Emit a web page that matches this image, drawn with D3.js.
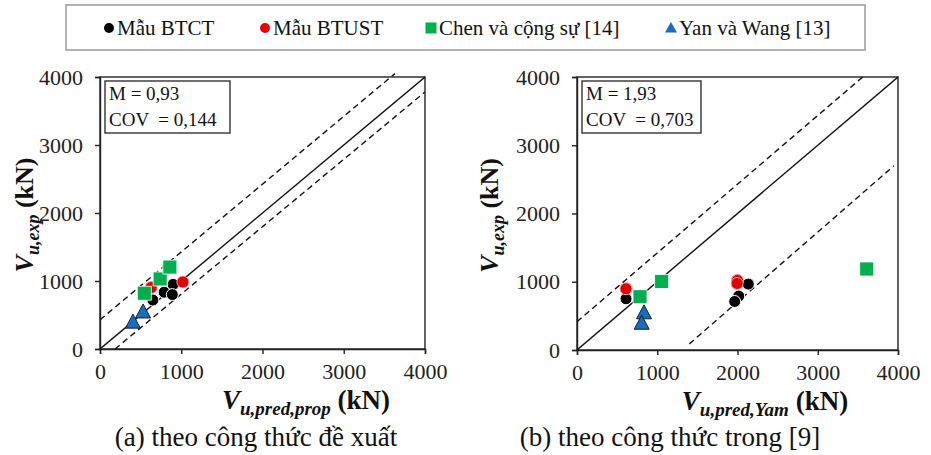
<!DOCTYPE html>
<html lang="vi">
<head>
<meta charset="UTF-8">
<title>Vu,exp vs Vu,pred</title>
<script src="https://d3js.org/d3.v7.min.js"></script>
<style>
  body { margin: 0; background: #fff; }
  svg { font-family: "Liberation Serif", "Times New Roman", serif; }
  .tick text { font-size: 22px; fill: #222; }
  .domain, .tick line { stroke: #222; stroke-width: 1.4; }
</style>
</head>
<body>
<div id="chart"></div>
<script>
// data, [pred, exp] in kN
const ticks = [0, 1000, 2000, 3000, 4000];

// (a) proposed formula
const btctA  = [[650, 720], [790, 835], [900, 950], [890, 800]];
const btustA = [[630, 905], [1020, 985]];
const chenA  = [[545, 820], [740, 1030], [860, 1205]];
const yanA   = [[530, 545], [405, 395]];

// (b) formula in [9]
const btctB  = [[611, 750], [2135, 966], [2015, 790], [1965, 711]];
const btustB = [[611, 897], [1998, 1020], [1995, 975]];
const chenB  = [[785, 780], [1055, 1005], [3610, 1187]];
const yanB   = [[835, 545], [806, 392]];

// bounds lines [x0, y0, x1, y1]
const upperA = [0, 430, 3630, 4050];
const lowerA = [185, 0, 4000, 3780];
const upperB = [0, 415, 3570, 4010];
const lowerB = [1400, 90, 3950, 2700];

const width = 931, height = 455;
const svg = d3.select("#chart").append("svg")
    .attr("width", width).attr("height", height);

// legend
const legend = svg.append("g");
legend.append("rect").attr("x", 66).attr("y", 5).attr("width", 799).attr("height", 45)
    .attr("fill", "#fff").attr("stroke", "#999").attr("stroke-width", 1.5);
const legItems = [
  {label: "Mẫu BTCT", type: "circle", color: "#000", x: 109},
  {label: "Mẫu BTUST", type: "circle", color: "#ee0000", x: 265},
  {label: "Chen và cộng sự [14]", type: "square", color: "#00b050", x: 431},
  {label: "Yan và Wang [13]", type: "triangle", color: "#1a6dbd", x: 671}
];
legItems.forEach(d => {
  const g = legend.append("g").attr("transform", `translate(${d.x},28)`);
  if (d.type === "circle") g.append("circle").attr("r", 5).attr("fill", d.color);
  if (d.type === "square") g.append("rect").attr("x", -5.5).attr("y", -5.5).attr("width", 11).attr("height", 11).attr("fill", d.color);
  if (d.type === "triangle") g.append("path").attr("d", "M0,-6L6,4.5L-6,4.5Z").attr("fill", d.color);
  g.append("text").attr("x", 8).attr("y", 7).attr("font-size", 21).attr("fill", "#111").text(d.label);
});

function drawPanel(cfg) {
  const x = d3.scaleLinear().domain([0, 4000]).range(cfg.xr);
  const y = d3.scaleLinear().domain([0, 4000]).range(cfg.yr);
  const g = svg.append("g");

  // frame
  g.append("rect").attr("x", cfg.xr[0]).attr("y", cfg.yr[1])
    .attr("width", cfg.xr[1] - cfg.xr[0]).attr("height", cfg.yr[0] - cfg.yr[1])
    .attr("fill", "none").attr("stroke", "#222").attr("stroke-width", 1.4);

  g.append("g").attr("transform", `translate(0,${cfg.yr[0]})`)
    .call(d3.axisBottom(x).tickValues(ticks).tickSize(5).tickPadding(9).tickFormat(d3.format("d")))
    .attr("font-family", null).attr("font-size", null);
  g.append("g").attr("transform", `translate(${cfg.xr[0]},0)`)
    .call(d3.axisLeft(y).tickValues(ticks).tickSize(5).tickPadding(12).tickFormat(d3.format("d")))
    .attr("font-family", null).attr("font-size", null);

  // clip for lines
  const clipId = "clip" + cfg.id;
  svg.append("clipPath").attr("id", clipId).append("rect")
    .attr("x", cfg.xr[0]).attr("y", cfg.yr[1] - 5)
    .attr("width", cfg.xr[1] - cfg.xr[0]).attr("height", cfg.yr[0] - cfg.yr[1] + 5);
  const lines = g.append("g").attr("clip-path", `url(#${clipId})`);
  lines.append("line").attr("x1", x(0)).attr("y1", y(0)).attr("x2", x(4000)).attr("y2", y(4000))
    .attr("stroke", "#111").attr("stroke-width", 1.4);
  [cfg.upper, cfg.lower].forEach(l => {
    lines.append("line").attr("x1", x(l[0])).attr("y1", y(l[1])).attr("x2", x(l[2])).attr("y2", y(l[3]))
      .attr("stroke", "#111").attr("stroke-width", 1.4).attr("stroke-dasharray", "6,4");
  });

  // stats box
  const sb = g.append("g");
  sb.append("rect").attr("x", cfg.xr[0] + 5).attr("y", cfg.yr[1] + 4)
    .attr("width", cfg.boxW).attr("height", 52)
    .attr("fill", "#fff").attr("stroke", "#333").attr("stroke-width", 1.4);
  sb.append("text").attr("x", cfg.xr[0] + 9).attr("y", cfg.yr[1] + 23)
    .attr("font-size", 19).attr("fill", "#111").text("M = " + cfg.m);
  sb.append("text").attr("x", cfg.xr[0] + 9).attr("y", cfg.yr[1] + 49)
    .attr("font-size", 19).attr("fill", "#111").attr("xml:space", "preserve").text("COV  = " + cfg.cov);

  // points
  const pts = g.append("g");
  pts.selectAll(".btct").data(cfg.btct).enter().append("circle")
    .attr("cx", d => x(d[0])).attr("cy", d => y(d[1])).attr("r", 6)
    .attr("fill", "#000").attr("stroke", "#fff").attr("stroke-width", 1);
  pts.selectAll(".btust").data(cfg.btust).enter().append("circle")
    .attr("cx", d => x(d[0])).attr("cy", d => y(d[1])).attr("r", 6)
    .attr("fill", "#e00000").attr("stroke", "#f4a0a0").attr("stroke-width", 1);
  pts.selectAll(".chen").data(cfg.chen).enter().append("rect")
    .attr("x", d => x(d[0]) - 7).attr("y", d => y(d[1]) - 7).attr("width", 14).attr("height", 14)
    .attr("fill", "#00b050").attr("stroke", "#fff").attr("stroke-width", 0.8);
  pts.selectAll(".yan").data(cfg.yan).enter().append("path")
    .attr("transform", d => `translate(${x(d[0])},${y(d[1])})`)
    .attr("d", "M0,-8L7.5,6L-7.5,6Z")
    .attr("fill", "#1a6dbd").attr("stroke", "#123").attr("stroke-width", 1);

  // y label
  const yl = g.append("text")
    .attr("transform", `translate(${cfg.yLabelX},${(cfg.yr[0] + cfg.yr[1]) / 2 + 2}) rotate(-90)`)
    .attr("text-anchor", "middle").attr("font-size", 26).attr("font-weight", "bold").attr("fill", "#111");
  yl.append("tspan").attr("font-style", "italic").text("V");
  yl.append("tspan").attr("font-style", "italic").attr("font-size", 18).attr("dy", 6).text("u,exp");
  yl.append("tspan").attr("dy", -6).text(" (kN)");

  // x label
  const xl = g.append("text")
    .attr("x", cfg.xLabelX).attr("y", cfg.yr[0] + 60)
    .attr("text-anchor", "middle").attr("font-size", 27).attr("font-weight", "bold").attr("fill", "#111");
  xl.append("tspan").attr("font-style", "italic").text("V");
  xl.append("tspan").attr("font-style", "italic").attr("font-size", 19).attr("dy", 6).text(cfg.xSub);
  xl.append("tspan").attr("dy", -6).text(" (kN)");

  // caption
  g.append("text").attr("x", cfg.capX).attr("y", 446)
    .attr("text-anchor", "middle").attr("font-size", 27).attr("fill", "#111").text(cfg.caption);
}

drawPanel({
  id: "a", xr: [100, 425], yr: [349, 77], m: "0,93", cov: "0,144", boxW: 125,
  btct: btctA, btust: btustA, chen: chenA, yan: yanA, upper: upperA, lower: lowerA,
  yLabelX: 33, xLabelX: 306, xSub: "u,pred,prop", caption: "(a) theo công thức đề xuất", capX: 256
});
drawPanel({
  id: "b", xr: [577, 898], yr: [350, 77], m: "1,93", cov: "0,703", boxW: 119,
  btct: btctB, btust: btustB, chen: chenB, yan: yanB, upper: upperB, lower: lowerB,
  yLabelX: 498, xLabelX: 765, xSub: "u,pred,Yam", caption: "(b) theo công thức trong [9]", capX: 670
});
</script>
</body>
</html>
